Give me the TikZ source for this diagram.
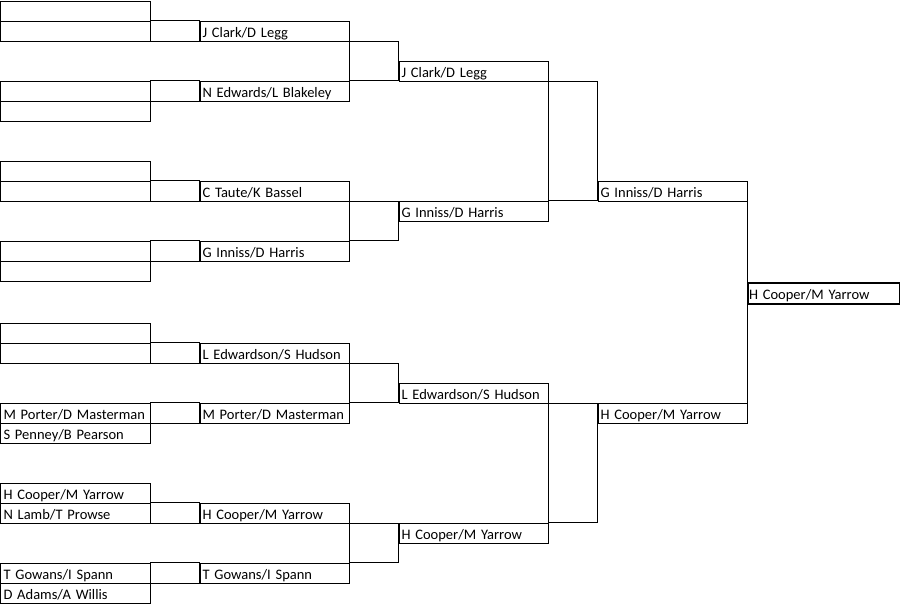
\documentclass[tikz,border=0pt]{standalone}
\usepackage{fontspec}
\setmainfont{Carlito}
\newcommand\cellfont{\fontsize{14.5pt}{17pt}\selectfont\hyphenpenalty=10000\exhyphenpenalty=10000}

\begin{document}
\begin{tikzpicture}[x=1pt,y=-1pt,line width=1pt,
  cell/.style={draw,anchor=north west,minimum height=20pt,text width=144pt,
    inner xsep=2.5pt,inner ysep=0pt,align=left,text height=16pt,text depth=4pt,
    font=\cellfont},
  winner/.style={cell,line width=2pt,minimum height=21pt,text width=149pt,
    inner xsep=1.5pt,text height=17pt}]
  \useasboundingbox (-0.5,-0.5) rectangle (899.5,602.5);

  % 1. First round cells
  \node[cell] (a1) at (0,0) {};
  \node[cell] (a2) at (0,20) {};
  \node[cell] (a3) at (0,80) {};
  \node[cell] (a4) at (0,100) {};
  \node[cell] (a5) at (0,160) {};
  \node[cell] (a6) at (0,180) {};
  \node[cell] (a7) at (0,240) {};
  \node[cell] (a8) at (0,260) {};
  \node[cell] (a9) at (0,322) {};
  \node[cell] (a10) at (0,342) {};
  \node[cell] (a11) at (0,402) {M Porter/D Masterman};
  \node[cell] (a12) at (0,422) {S Penney/B Pearson};
  \node[cell] (a13) at (0,482) {H Cooper/M Yarrow};
  \node[cell] (a14) at (0,502) {N Lamb/T Prowse};
  \node[cell] (a15) at (0,562) {T Gowans/I Spann};
  \node[cell] (a16) at (0,582) {D Adams/A Willis};

  % 2. Second round cells
  \node[cell] (c1) at (199,20) {J Clark/D Legg};
  \node[cell] (c2) at (199,80) {N Edwards/L Blakeley};
  \node[cell] (c3) at (199,180) {C Taute/K Bassel};
  \node[cell] (c4) at (199,240) {G Inniss/D Harris};
  \node[cell] (c5) at (199,342) {L Edwardson/S Hudson};
  \node[cell] (c6) at (199,402) {M Porter/D Masterman};
  \node[cell] (c7) at (199,502) {H Cooper/M Yarrow};
  \node[cell] (c8) at (199,562) {T Gowans/I Spann};

  % 3. Semi-final and final cells
  \node[cell] (e1) at (398,60) {J Clark/D Legg};
  \node[cell] (e2) at (398,200) {G Inniss/D Harris};
  \node[cell] (e3) at (398,382) {L Edwardson/S Hudson};
  \node[cell] (e4) at (398,522) {H Cooper/M Yarrow};
  \node[cell] (g1) at (597,180) {G Inniss/D Harris};
  \node[cell] (g2) at (597,402) {H Cooper/M Yarrow};

  % 4. Links between the rounds
  \draw (a2.north east) rectangle (c1.south west);
  \draw (a3.north east) rectangle (c2.south west);
  \draw (a6.north east) rectangle (c3.south west);
  \draw (a7.north east) rectangle (c4.south west);
  \draw (a10.north east) rectangle (c5.south west);
  \draw (a11.north east) rectangle (c6.south west);
  \draw (a14.north east) rectangle (c7.south west);
  \draw (a15.north east) rectangle (c8.south west);
  \draw (c1.south east) rectangle (c2.north east -| e1.west);
  \draw (c3.south east) rectangle (c4.north east -| e2.west);
  \draw (c5.south east) rectangle (c6.north east -| e3.west);
  \draw (c7.south east) rectangle (c8.north east -| e4.west);
  \draw (e1.south east) rectangle (e2.north east -| g1.west);
  \draw (e3.south east) rectangle (e4.north east -| g2.west);
  \draw (g1.south east) -- (g2.north east);

  % 5. The winner
  \node[winner] (champ) at (746,281) {H Cooper/M Yarrow};
\end{tikzpicture}
\end{document}
